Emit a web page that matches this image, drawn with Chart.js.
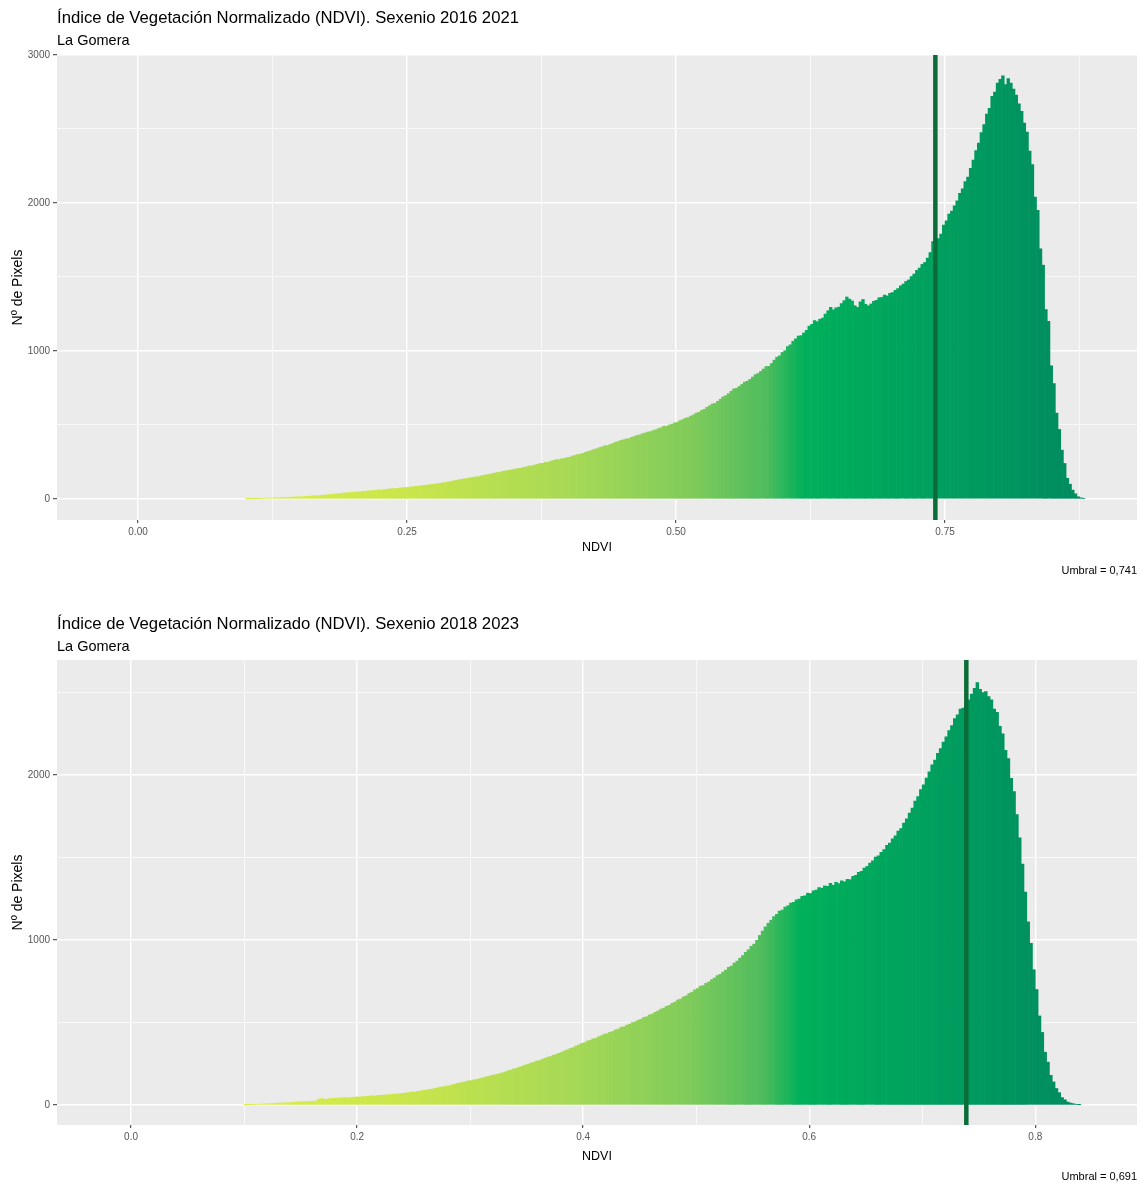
<!DOCTYPE html>
<html lang="es">
<head>
<meta charset="UTF-8">
<title>NDVI La Gomera</title>
<script src="https://cdn.jsdelivr.net/npm/chart.js@4.4.1/dist/chart.umd.min.js"></script>
<style>
  html, body { margin: 0; padding: 0; background: #fff; }
  .panel { position: relative; width: 1140px; }
  #wrap1 { height: 606px; }
  #wrap2 { height: 577px; }
</style>
</head>
<body>
<div class="panel" id="wrap1"><canvas id="ndvi1"></canvas></div>
<div class="panel" id="wrap2"><canvas id="ndvi2"></canvas></div>

<script>
// histogram bins (NDVI), width 0.0025, first bin starting at binStart
const binWidth = 0.0025;

// Sexenio 2016 2021
const binStart1 = 0.100;
const counts1 = [
  1, 1, 2, 2, 3, 3, 4, 5, 6, 6, 7, 8, 9, 10, 11, 11, 12, 13, 14, 14,
  15, 16, 17, 19, 20, 22, 23, 23, 25, 27, 28, 31, 33, 34, 36, 37, 40, 42, 43, 45,
  46, 47, 49, 51, 52, 55, 56, 58, 59, 61, 60, 63, 65, 68, 69, 71, 71, 74, 75, 78,
  78, 82, 83, 86, 87, 90, 91, 95, 96, 100, 101, 104, 106, 110, 112, 116, 119, 124, 126, 131,
  133, 137, 139, 143, 146, 150, 150, 156, 160, 164, 166, 171, 174, 179, 181, 186, 189, 193, 195, 200,
  203, 207, 208, 214, 218, 223, 224, 230, 233, 240, 241, 247, 248, 256, 260, 266, 266, 272, 274, 280,
  282, 290, 296, 301, 303, 309, 316, 322, 327, 335, 340, 347, 352, 360, 360, 368, 375, 384, 388, 396,
  400, 406, 408, 416, 422, 430, 433, 441, 446, 452, 455, 463, 468, 476, 482, 492, 490, 500, 505, 514,
  518, 530, 536, 546, 550, 560, 568, 580, 586, 598, 606, 620, 630, 642, 646, 660, 674, 690, 698, 712,
  728, 744, 748, 760, 774, 790, 796, 808, 824, 840, 848, 862, 878, 895, 896, 915, 938, 958, 968, 990,
  1002, 1030, 1042, 1066, 1082, 1100, 1104, 1122, 1140, 1168, 1180, 1205, 1198, 1215, 1222, 1250, 1272, 1295, 1278, 1292,
  1296, 1320, 1340, 1365, 1350, 1338, 1306, 1295, 1332, 1348, 1315, 1305, 1318, 1336, 1342, 1360, 1362, 1378, 1372, 1390,
  1394, 1410, 1422, 1440, 1452, 1470, 1480, 1502, 1520, 1545, 1560, 1585, 1598, 1628, 1665, 1740, 1680, 1760, 1790, 1850,
  1880, 1925, 1945, 1980, 2015, 2065, 2095, 2145, 2175, 2235, 2290, 2355, 2405, 2475, 2530, 2600, 2640, 2720, 2750, 2810,
  2835, 2860, 2800, 2840, 2810, 2770, 2730, 2670, 2620, 2540, 2480, 2350, 2260, 2040, 1950, 1690, 1580, 1280, 1200, 900,
  780, 580, 470, 330, 240, 140, 100, 60, 35, 15, 8, 4
];
const umbralLine1 = 0.741;
const umbralText1 = 'Umbral = 0,741';
const xTicks1 = [0, 0.125, 0.25, 0.375, 0.5, 0.625, 0.75, 0.875];
const xLabels1 = ['0.00', '0.25', '0.50', '0.75'];

// Sexenio 2018 2023
const binStart2 = 0.100;
const counts2 = [
  1, 2, 3, 3, 4, 5, 6, 7, 8, 9, 10, 11, 12, 12, 13, 14, 15, 17, 18, 19,
  20, 20, 21, 22, 23, 25, 36, 39, 35, 37, 39, 41, 41, 43, 43, 45, 44, 46, 47, 49,
  48, 50, 51, 53, 54, 56, 55, 58, 59, 61, 61, 64, 65, 67, 67, 70, 71, 74, 76, 79,
  79, 83, 85, 89, 90, 95, 96, 101, 104, 109, 110, 115, 116, 122, 126, 131, 134, 139, 142, 147,
  148, 153, 156, 161, 164, 170, 173, 179, 182, 187, 190, 196, 201, 208, 212, 219, 223, 230, 235, 242,
  247, 254, 259, 266, 269, 277, 283, 290, 294, 302, 307, 314, 320, 329, 335, 343, 348, 358, 364, 373,
  378, 388, 392, 401, 404, 414, 420, 430, 432, 441, 446, 456, 461, 472, 474, 484, 490, 500, 504, 514,
  520, 531, 535, 546, 551, 562, 570, 581, 587, 598, 604, 617, 624, 637, 642, 655, 662, 676, 684, 698,
  706, 720, 724, 738, 746, 760, 770, 784, 792, 806, 818, 834, 842, 860, 872, 890, 906, 926, 940, 962,
  975, 998, 1028, 1054, 1080, 1102, 1120, 1142, 1155, 1176, 1182, 1200, 1208, 1224, 1228, 1244, 1248, 1265, 1268, 1284,
  1282, 1298, 1302, 1318, 1314, 1328, 1326, 1344, 1332, 1350, 1342, 1358, 1352, 1368, 1366, 1386, 1392, 1410, 1416, 1436,
  1446, 1466, 1480, 1502, 1510, 1532, 1548, 1574, 1588, 1614, 1632, 1660, 1676, 1708, 1735, 1770, 1800, 1842, 1870, 1912,
  1940, 1982, 2020, 2062, 2090, 2132, 2160, 2200, 2232, 2270, 2300, 2342, 2365, 2400, 2405, 2440, 2455, 2490, 2525, 2560,
  2520, 2500, 2505, 2475, 2455, 2400, 2380, 2295, 2250, 2150, 2100, 1980, 1900, 1760, 1620, 1460, 1290, 1110, 980, 820,
  700, 540, 440, 320, 260, 180, 140, 100, 75, 45, 32, 18, 12, 8, 4, 2
];
const umbralLine2 = 0.739;
const umbralText2 = 'Umbral = 0,691';
const xTicks2 = [0, 0.1, 0.2, 0.3, 0.4, 0.5, 0.6, 0.7, 0.8];
const xLabels2 = ['0.0', '0.2', '0.4', '0.6', '0.8'];

const titleText1 = 'Índice de Vegetación Normalizado (NDVI). Sexenio 2016 2021';
const titleText2 = 'Índice de Vegetación Normalizado (NDVI). Sexenio 2018 2023';
const subtitleText = 'La Gomera';
const yTitle = 'Nº de Pixels';
const xTitle = 'NDVI';

const FONT = '"Liberation Sans", Arial, sans-serif';

// fill colour runs along the NDVI range of the bins
const fillStops = [
  [0.00, '#dbee48'], [0.20, '#c8e54b'], [0.40, '#a4d856'], [0.53, '#80cb5a'],
  [0.62, '#4fbc5d'], [0.665, '#00b05a'], [0.80, '#00a25e'], [1.00, '#008a60']
];

function toPoints(start, counts) {
  return counts.map((c, i) => ({ x: +(start + (i + 0.5) * binWidth).toFixed(5), y: c }));
}

function barFill(start, n) {
  return function (ctx) {
    const chart = ctx.chart;
    const area = chart.chartArea;
    if (!area) return '#00a25e';
    const x0 = chart.scales.x.getPixelForValue(start);
    const x1 = chart.scales.x.getPixelForValue(start + n * binWidth);
    const key = x0 + ':' + x1;
    if (chart.$fillKey !== key) {
      const g = chart.ctx.createLinearGradient(x0, 0, x1, 0);
      fillStops.forEach(s => g.addColorStop(s[0], s[1]));
      chart.$fill = g;
      chart.$fillKey = key;
    }
    return chart.$fill;
  };
}

const ggDecor = {
  id: 'ggDecor',
  beforeDraw(chart) {
    const { ctx, chartArea: a } = chart;
    ctx.save();
    ctx.fillStyle = '#ebebeb';
    ctx.fillRect(a.left, a.top, a.right - a.left, a.bottom - a.top);
    ctx.restore();
  },
  afterDatasetsDraw(chart, args, opts) {
    const { ctx, chartArea: a } = chart;
    const px = chart.scales.x.getPixelForValue(opts.umbral);
    ctx.save();
    ctx.strokeStyle = '#0a6c38';
    ctx.lineWidth = 4.5;
    ctx.beginPath();
    ctx.moveTo(px, a.top);
    ctx.lineTo(px, a.bottom);
    ctx.stroke();
    ctx.restore();
  },
  afterDraw(chart, args, opts) {
    const { ctx, chartArea: a } = chart;
    ctx.save();
    ctx.fillStyle = '#000';
    ctx.textBaseline = 'middle';
    ctx.textAlign = 'left';
    ctx.font = '16.7px ' + FONT;
    ctx.fillText(opts.title, a.left, 18);
    ctx.font = '14.5px ' + FONT;
    ctx.fillText(subtitleText, a.left, 41);

    ctx.font = '12.5px ' + FONT;
    ctx.textAlign = 'center';
    ctx.fillText(xTitle, (a.left + a.right) / 2, opts.xTitleY);

    ctx.font = '11px ' + FONT;
    ctx.textAlign = 'right';
    ctx.fillText(opts.caption, a.right, 571);

    ctx.translate(18, (a.top + a.bottom) / 2);
    ctx.rotate(-Math.PI / 2);
    ctx.textAlign = 'center';
    ctx.font = '14px ' + FONT;
    ctx.fillText(yTitle, 0, 0);
    ctx.restore();
  }
};

function makeChart(id, cfg) {
  const xMajor = cfg.xLabels.map(Number);
  const isMajorX = v => xMajor.some(m => Math.abs(m - v) < 1e-6);
  return new Chart(document.getElementById(id), {
    type: 'bar',
    data: {
      datasets: [{
        data: toPoints(cfg.start, cfg.counts),
        backgroundColor: barFill(cfg.start, cfg.counts.length),
        borderWidth: 0,
        barPercentage: 1,
        categoryPercentage: 1
      }]
    },
    options: {
      responsive: true,
      maintainAspectRatio: false,
      animation: false,
      layout: { padding: { top: cfg.top, right: 3, left: 0, bottom: 0 } },
      plugins: {
        legend: { display: false },
        tooltip: { enabled: false },
        ggDecor: { title: cfg.title, caption: cfg.caption, umbral: cfg.umbral, xTitleY: cfg.xTitleY }
      },
      scales: {
        x: {
          type: 'linear',
          offset: false,
          min: cfg.xMin,
          max: cfg.xMax,
          afterFit: s => { s.height = cfg.xHeight; },
          afterBuildTicks: s => { s.ticks = cfg.xTicks.map(v => ({ value: v })); },
          border: { display: false },
          grid: {
            offset: false,
            color: '#ffffff',
            lineWidth: c => (c.tick && isMajorX(c.tick.value) ? 1.4 : 0.7),
            tickColor: c => (c.tick && isMajorX(c.tick.value) ? '#333333' : 'rgba(0,0,0,0)'),
            tickLength: 3,
            tickWidth: 1
          },
          ticks: {
            autoSkip: false,
            maxRotation: 0,
            padding: 3,
            color: '#555555',
            font: { family: FONT, size: 10 },
            callback: v => {
              const i = xMajor.findIndex(m => Math.abs(m - v) < 1e-6);
              return i >= 0 ? cfg.xLabels[i] : '';
            }
          }
        },
        y: {
          min: cfg.yMin,
          max: cfg.yMax,
          afterFit: s => { s.width = 57; },
          afterBuildTicks: s => { s.ticks = cfg.yTicks.map(v => ({ value: v })); },
          border: { display: false },
          grid: {
            color: '#ffffff',
            lineWidth: c => (c.tick && c.tick.value % 1000 === 0 ? 1.4 : 0.7),
            tickColor: c => (c.tick && c.tick.value % 1000 === 0 ? '#333333' : 'rgba(0,0,0,0)'),
            tickLength: 4,
            tickWidth: 1
          },
          ticks: {
            autoSkip: false,
            padding: 3,
            color: '#555555',
            font: { family: FONT, size: 10 },
            callback: v => (v % 1000 === 0 ? String(v) : '')
          }
        }
      }
    },
    plugins: [ggDecor]
  });
}

makeChart('ndvi1', {
  start: binStart1, counts: counts1,
  title: titleText1, caption: umbralText1, umbral: umbralLine1,
  xMin: -0.0753, xMax: 0.9284, xTicks: xTicks1, xLabels: xLabels1,
  yMin: -142, yMax: 3000, yTicks: [0, 500, 1000, 1500, 2000, 2500, 3000],
  top: 55, xHeight: 86, xTitleY: 548
});

makeChart('ndvi2', {
  start: binStart2, counts: counts2,
  title: titleText2, caption: umbralText2, umbral: umbralLine2,
  xMin: -0.0655, xMax: 0.890, xTicks: xTicks2, xLabels: xLabels2,
  yMin: -121, yMax: 2697, yTicks: [0, 500, 1000, 1500, 2000, 2500],
  top: 54, xHeight: 58, xTitleY: 551
});
</script>
</body>
</html>
